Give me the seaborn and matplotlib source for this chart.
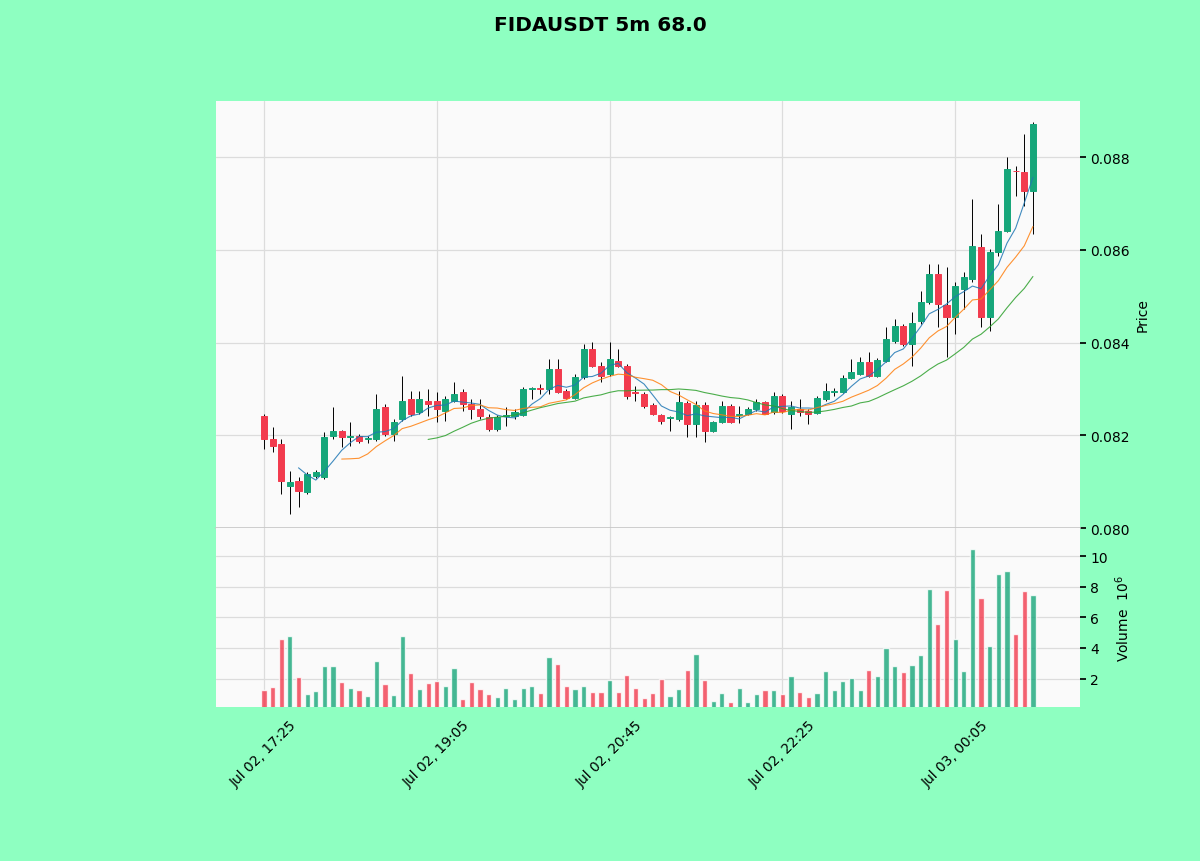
import numpy as np
import pandas as pd
import seaborn as sns
import matplotlib
matplotlib.use('Agg')
import matplotlib.pyplot as plt

TITLE = 'FIDAUSDT 5m 68.0'
START = '2024-07-02 17:25'

# 5 minute candles
opens = [0.08242, 0.08192, 0.08181, 0.08091, 0.08101, 0.08078, 0.08112, 0.08110, 0.08198, 0.08209,
         0.08196, 0.08198, 0.08192, 0.08192, 0.08261, 0.08203, 0.08235, 0.08278, 0.08250, 0.08274,
         0.08274, 0.08252, 0.08274, 0.08293, 0.08267, 0.08257, 0.08239, 0.08213, 0.08242, 0.08242,
         0.08244, 0.08300, 0.08302, 0.08300, 0.08343, 0.08295, 0.08280, 0.08326, 0.08386, 0.08349,
         0.08332, 0.08360, 0.08349, 0.08293, 0.08289, 0.08265, 0.08244, 0.08237, 0.08235, 0.08270,
         0.08224, 0.08265, 0.08209, 0.08229, 0.08263, 0.08244, 0.08246, 0.08257, 0.08272, 0.08250,
         0.08285, 0.08246, 0.08257, 0.08252, 0.08248, 0.08278, 0.08293, 0.08293, 0.08323, 0.08332,
         0.08358, 0.08328, 0.08360, 0.08403, 0.08436, 0.08397, 0.08446, 0.08487, 0.08548, 0.08481,
         0.08455, 0.08515, 0.08537, 0.08606, 0.08455, 0.08595, 0.08640, 0.08770, 0.08768, 0.08727]
highs = [0.08246, 0.08218, 0.08192, 0.08123, 0.08110, 0.08121, 0.08125, 0.08207, 0.08261, 0.08211,
         0.08229, 0.08203, 0.08198, 0.08289, 0.08267, 0.08235, 0.08328, 0.08295, 0.08295, 0.08300,
         0.08293, 0.08285, 0.08315, 0.08300, 0.08278, 0.08278, 0.08246, 0.08244, 0.08261, 0.08257,
         0.08304, 0.08304, 0.08311, 0.08364, 0.08364, 0.08300, 0.08332, 0.08397, 0.08401, 0.08358,
         0.08401, 0.08386, 0.08354, 0.08306, 0.08293, 0.08270, 0.08246, 0.08242, 0.08295, 0.08274,
         0.08274, 0.08272, 0.08231, 0.08274, 0.08267, 0.08263, 0.08261, 0.08278, 0.08274, 0.08293,
         0.08289, 0.08274, 0.08278, 0.08257, 0.08285, 0.08313, 0.08302, 0.08330, 0.08364, 0.08369,
         0.08380, 0.08367, 0.08433, 0.08451, 0.08440, 0.08466, 0.08511, 0.08569, 0.08569, 0.08563,
         0.08530, 0.08552, 0.08709, 0.08634, 0.08602, 0.08699, 0.08800, 0.08781, 0.08850, 0.08875]
lows = [0.08170, 0.08164, 0.08073, 0.08030, 0.08045, 0.08073, 0.08108, 0.08106, 0.08192, 0.08175,
        0.08177, 0.08183, 0.08183, 0.08188, 0.08198, 0.08188, 0.08231, 0.08242, 0.08246, 0.08242,
        0.08229, 0.08231, 0.08272, 0.08252, 0.08235, 0.08235, 0.08209, 0.08209, 0.08220, 0.08235,
        0.08242, 0.08278, 0.08289, 0.08289, 0.08291, 0.08278, 0.08278, 0.08321, 0.08347, 0.08315,
        0.08328, 0.08347, 0.08278, 0.08274, 0.08259, 0.08244, 0.08224, 0.08209, 0.08231, 0.08196,
        0.08196, 0.08185, 0.08207, 0.08226, 0.08226, 0.08226, 0.08244, 0.08252, 0.08246, 0.08246,
        0.08248, 0.08213, 0.08242, 0.08224, 0.08246, 0.08274, 0.08285, 0.08291, 0.08321, 0.08330,
        0.08326, 0.08326, 0.08358, 0.08399, 0.08392, 0.08349, 0.08440, 0.08483, 0.08433, 0.08369,
        0.08418, 0.08472, 0.08530, 0.08433, 0.08425, 0.08587, 0.08638, 0.08716, 0.08694, 0.08634]
closes = [0.08192, 0.08177, 0.08101, 0.08099, 0.08080, 0.08116, 0.08121, 0.08196, 0.08209, 0.08196,
          0.08198, 0.08188, 0.08194, 0.08257, 0.08203, 0.08229, 0.08274, 0.08246, 0.08278, 0.08267,
          0.08257, 0.08278, 0.08289, 0.08267, 0.08257, 0.08242, 0.08213, 0.08239, 0.08244, 0.08250,
          0.08300, 0.08302, 0.08300, 0.08343, 0.08293, 0.08280, 0.08326, 0.08386, 0.08349, 0.08328,
          0.08364, 0.08349, 0.08285, 0.08291, 0.08263, 0.08246, 0.08231, 0.08239, 0.08272, 0.08224,
          0.08265, 0.08209, 0.08229, 0.08263, 0.08229, 0.08246, 0.08257, 0.08272, 0.08246, 0.08285,
          0.08252, 0.08261, 0.08250, 0.08246, 0.08280, 0.08295, 0.08295, 0.08323, 0.08336, 0.08358,
          0.08328, 0.08362, 0.08408, 0.08436, 0.08397, 0.08442, 0.08487, 0.08548, 0.08483, 0.08455,
          0.08522, 0.08541, 0.08608, 0.08455, 0.08595, 0.08640, 0.08774, 0.08769, 0.08727, 0.08871]
# volume in millions
volumes = [1.26, 1.47, 4.60, 4.78, 2.09, 0.97, 1.19, 2.80, 2.80, 1.76,
           1.37, 1.26, 0.86, 3.13, 1.63, 0.93, 4.78, 2.36, 1.30, 1.74,
           1.81, 1.54, 2.69, 0.64, 1.76, 1.32, 0.99, 0.77, 1.41, 0.66,
           1.37, 1.52, 1.04, 3.42, 2.98, 1.54, 1.32, 1.52, 1.15, 1.15,
           1.92, 1.10, 2.25, 1.37, 0.73, 1.08, 1.96, 0.86, 1.32, 2.58,
           3.61, 1.92, 0.55, 1.04, 0.48, 1.37, 0.48, 0.97, 1.26, 1.26,
           0.97, 2.14, 1.10, 0.81, 1.08, 2.47, 1.26, 1.81, 2.03, 1.26,
           2.53, 2.18, 4.01, 2.84, 2.43, 2.91, 3.52, 7.87, 5.55, 7.80,
           4.56, 2.51, 10.47, 7.27, 4.12, 8.81, 9.01, 4.89, 7.71, 7.47]

MAV = (5, 10, 20)
MAV_COLORS = ['#1f77b4', '#ff7f0e', '#2ca02c']
UP = '#16a67a'
DOWN = '#f23b4e'
BG = '#8effc1'


def main():
    sns.set_theme(style='whitegrid')
    plt.rcParams['font.family'] = ['DejaVu Sans']

    times = pd.date_range(START, periods=len(closes), freq='5min')
    df = pd.DataFrame({'idx': np.arange(len(closes)), 'open': opens, 'high': highs,
                       'low': lows, 'close': closes, 'volume': volumes})
    df['dir'] = np.where(df['close'] >= df['open'], 'up', 'down')
    colors = df['dir'].map({'up': UP, 'down': DOWN})

    fig = plt.figure(figsize=(12, 8.62), dpi=100, facecolor=BG)
    ax = fig.add_axes([0.18, 0.3863, 0.72, 0.4954])
    axv = fig.add_axes([0.18, 0.1787, 0.72, 0.2076], sharex=ax)

    for a in (ax, axv):
        a.set_facecolor('#fafafa')
        a.grid(True, color='#dcdcdc', lw=0.9)
        for s in a.spines.values():
            s.set_visible(False)
    ax.spines['bottom'].set_visible(True)
    ax.spines['bottom'].set_color('#c8c8c8')

    # candles: wicks then bodies
    ax.vlines(df['idx'], df['low'], df['high'], color='black', lw=0.7, zorder=2)
    body_lo = df[['open', 'close']].min(axis=1)
    body_h = (df['close'] - df['open']).abs()
    ax.bar(df['idx'], body_h, bottom=body_lo, width=0.7, color=colors,
           edgecolor=colors, lw=0.7, zorder=3)

    # moving averages
    for n, c in zip(MAV, MAV_COLORS):
        ma = df['close'].rolling(n).mean()
        sns.lineplot(x=df['idx'], y=ma, ax=ax, color=c, lw=0.8, alpha=0.85, zorder=4)

    # volume
    sns.barplot(data=df, x='idx', y='volume', hue='dir', palette={'up': UP, 'down': DOWN},
                native_scale=True, width=0.6, dodge=False, legend=False, saturation=1,
                alpha=0.8, ax=axv, zorder=3)

    ax.set_xlim(-5.55, 94.45)
    ax.set_ylim(0.0800, 0.08921)
    ax.set_yticks([0.080, 0.082, 0.084, 0.086, 0.088])
    ax.set_yticklabels(['%.3f' % v for v in [0.080, 0.082, 0.084, 0.086, 0.088]])
    axv.set_ylim(min(volumes) * 0.3, max(volumes) * 1.13)
    axv.set_yticks([2, 4, 6, 8, 10])

    tick_idx = [0, 20, 40, 60, 80]
    axv.set_xticks(tick_idx)
    axv.set_xticklabels([times[i].strftime('%b %d, %H:%M') for i in tick_idx],
                        rotation=45, ha='center')
    ax.tick_params(axis='x', labelbottom=False, length=0)
    axv.tick_params(axis='x', length=4, color='black', labelsize=10, labelcolor='black')

    for a in (ax, axv):
        a.yaxis.tick_right()
        a.yaxis.set_label_position('right')
        a.tick_params(axis='y', length=4, color='black', labelsize=10, labelcolor='black')
        a.set_xlabel('')
    ax.set_ylabel('Price', color='black', fontsize=10)
    axv.set_ylabel('Volume  $10^{6}$', color='black', fontsize=10)
    ax.set_xlim(-5.55, 94.45)

    fig.suptitle(TITLE, y=0.981, fontweight='bold', fontsize=14.5, color='black')
    fig.savefig('out.png', dpi=100, facecolor=BG)


if __name__ == '__main__':
    main()
